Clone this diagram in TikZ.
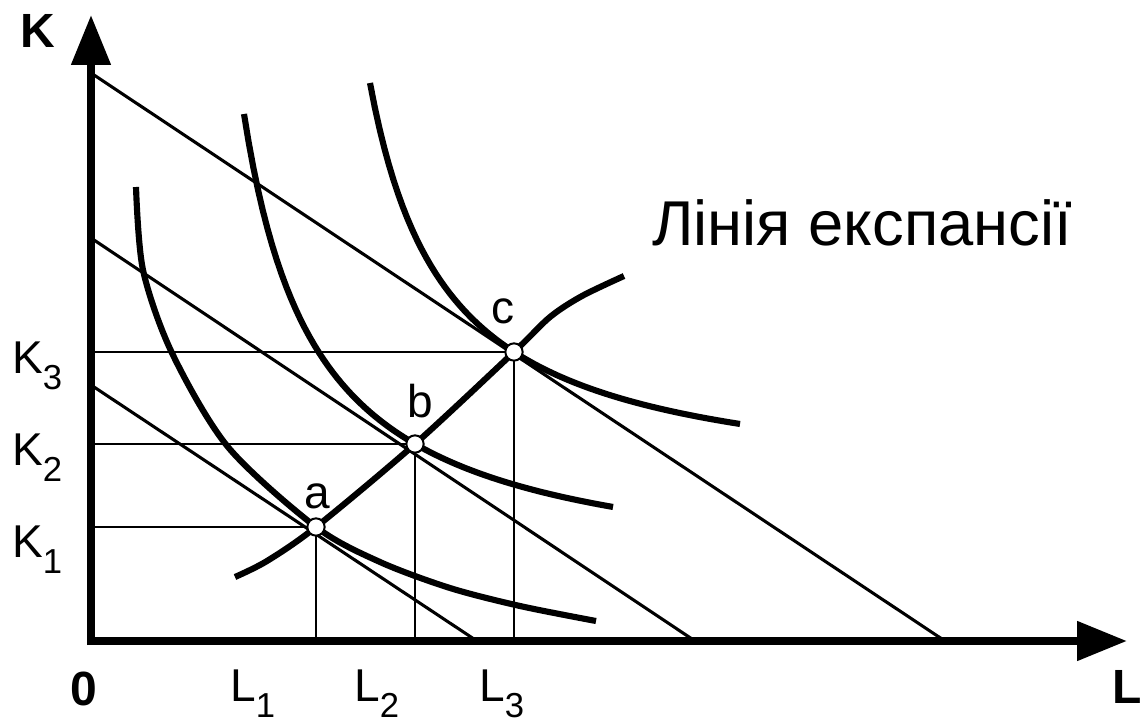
\documentclass[tikz,border=0pt]{standalone}
\usepackage{fontspec}
\setmainfont{Liberation Sans}
\usetikzlibrary{arrows.meta}
\newcommand\lowsub[1]{\raisebox{-12.5pt}{\fontsize{26}{30}\selectfont #1}}
\begin{document}
\begin{tikzpicture}[x=0.75pt,y=-0.75pt,
  axis/.style={line width=6pt, -{Triangle[length=37.5pt,width=28.5pt]}},
  guide/.style={line width=1.5pt},
  budget/.style={line width=2.3pt},
  iso/.style={line width=4.6pt},
  expline/.style={line width=4.6pt, line join=round},
  pt/.style={circle, draw, fill=white, line width=1.5pt, minimum size=13pt, inner sep=0pt},
  lbl/.style={font=\fontsize{34.5}{40}\selectfont, inner sep=0pt},
  bold/.style={font=\fontsize{36}{40}\selectfont\bfseries, inner sep=0pt},
  title/.style={font=\fontsize{47.5}{55}\selectfont, inner sep=0pt}]
\useasboundingbox[fill=white] (0,0) rectangle (1143,724);
% coordinates
\coordinate (O) at (91,641);
\coordinate (ybot) at (91,645);
\coordinate (ytop) at (91,15);
\coordinate (xbeg) at (87,641);
\coordinate (xend) at (1127,641);
\coordinate (pa) at (316,527);
\coordinate (pb) at (415,444);
\coordinate (pc) at (514,352);
\coordinate (k1) at (91,385);
\coordinate (l1) at (477,641);
\coordinate (k2) at (91,238);
\coordinate (l2) at (695,641);
\coordinate (k3) at (91,73);
\coordinate (l3) at (945,641);
% guide lines
\draw[guide] (pa -| O) -- (pa) -- (pa |- O);
\draw[guide] (pb -| O) -- (pb) -- (pb |- O);
\draw[guide] (pc -| O) -- (pc) -- (pc |- O);
% budget lines
\draw[budget] (k1) -- (l1);
\draw[budget] (k2) -- (l2);
\draw[budget] (k3) -- (l3);
% isoquants
\draw[iso] plot[smooth] coordinates {(136,187) (143,270) (172,353) (228,447) (316,527) (380,562) (450,588) (520,606) (596,621)};
\draw[iso] plot[domain=153:522, samples=80] ({91+\x},{641-56.4-(343.07/(\x-80.1))*100});
\draw[iso] plot[domain=279:649, samples=80] ({91+\x},{641-146.9-(312.85/(\x-202.9))*100});
% expansion line
\draw[expline] plot[smooth, tension=0.5] coordinates {(235,577) (267,561) (pa) (pb) (pc) (550,317) (582,296) (624,276)};
% axes
\draw[axis] (ybot) -- (ytop);
\draw[axis] (xbeg) -- (xend);
% points
\node[pt] (a) at (pa) {};
\node[pt] (b) at (pb) {};
\node[pt] (c) at (pc) {};
% labels
\node[lbl, anchor=base] (la) at (317,508) {a};
\node[lbl, anchor=base] (lb) at (420,417) {b};
\node[lbl, anchor=base] (lc) at (503,323) {c};
\node[bold, anchor=base west] (K) at (20,48) {K};
\node[bold, anchor=base] (zero) at (83.5,705) {0};
\node[bold, anchor=base east] (L) at (1142,703) {L};
\node[lbl, anchor=base west] (K1) at (12,557) {K\lowsub{1}};
\node[lbl, anchor=base west] (K2) at (12,465) {K\lowsub{2}};
\node[lbl, anchor=base west] (K3) at (12,373) {K\lowsub{3}};
\node[lbl, anchor=base west] (L1) at (230,701) {L\lowsub{1}};
\node[lbl, anchor=base west] (L2) at (354,701) {L\lowsub{2}};
\node[lbl, anchor=base west] (L3) at (479,701) {L\lowsub{3}};
\node[title, anchor=base west] (T) at (652,245) {Лінія експансії};
\end{tikzpicture}
\end{document}
